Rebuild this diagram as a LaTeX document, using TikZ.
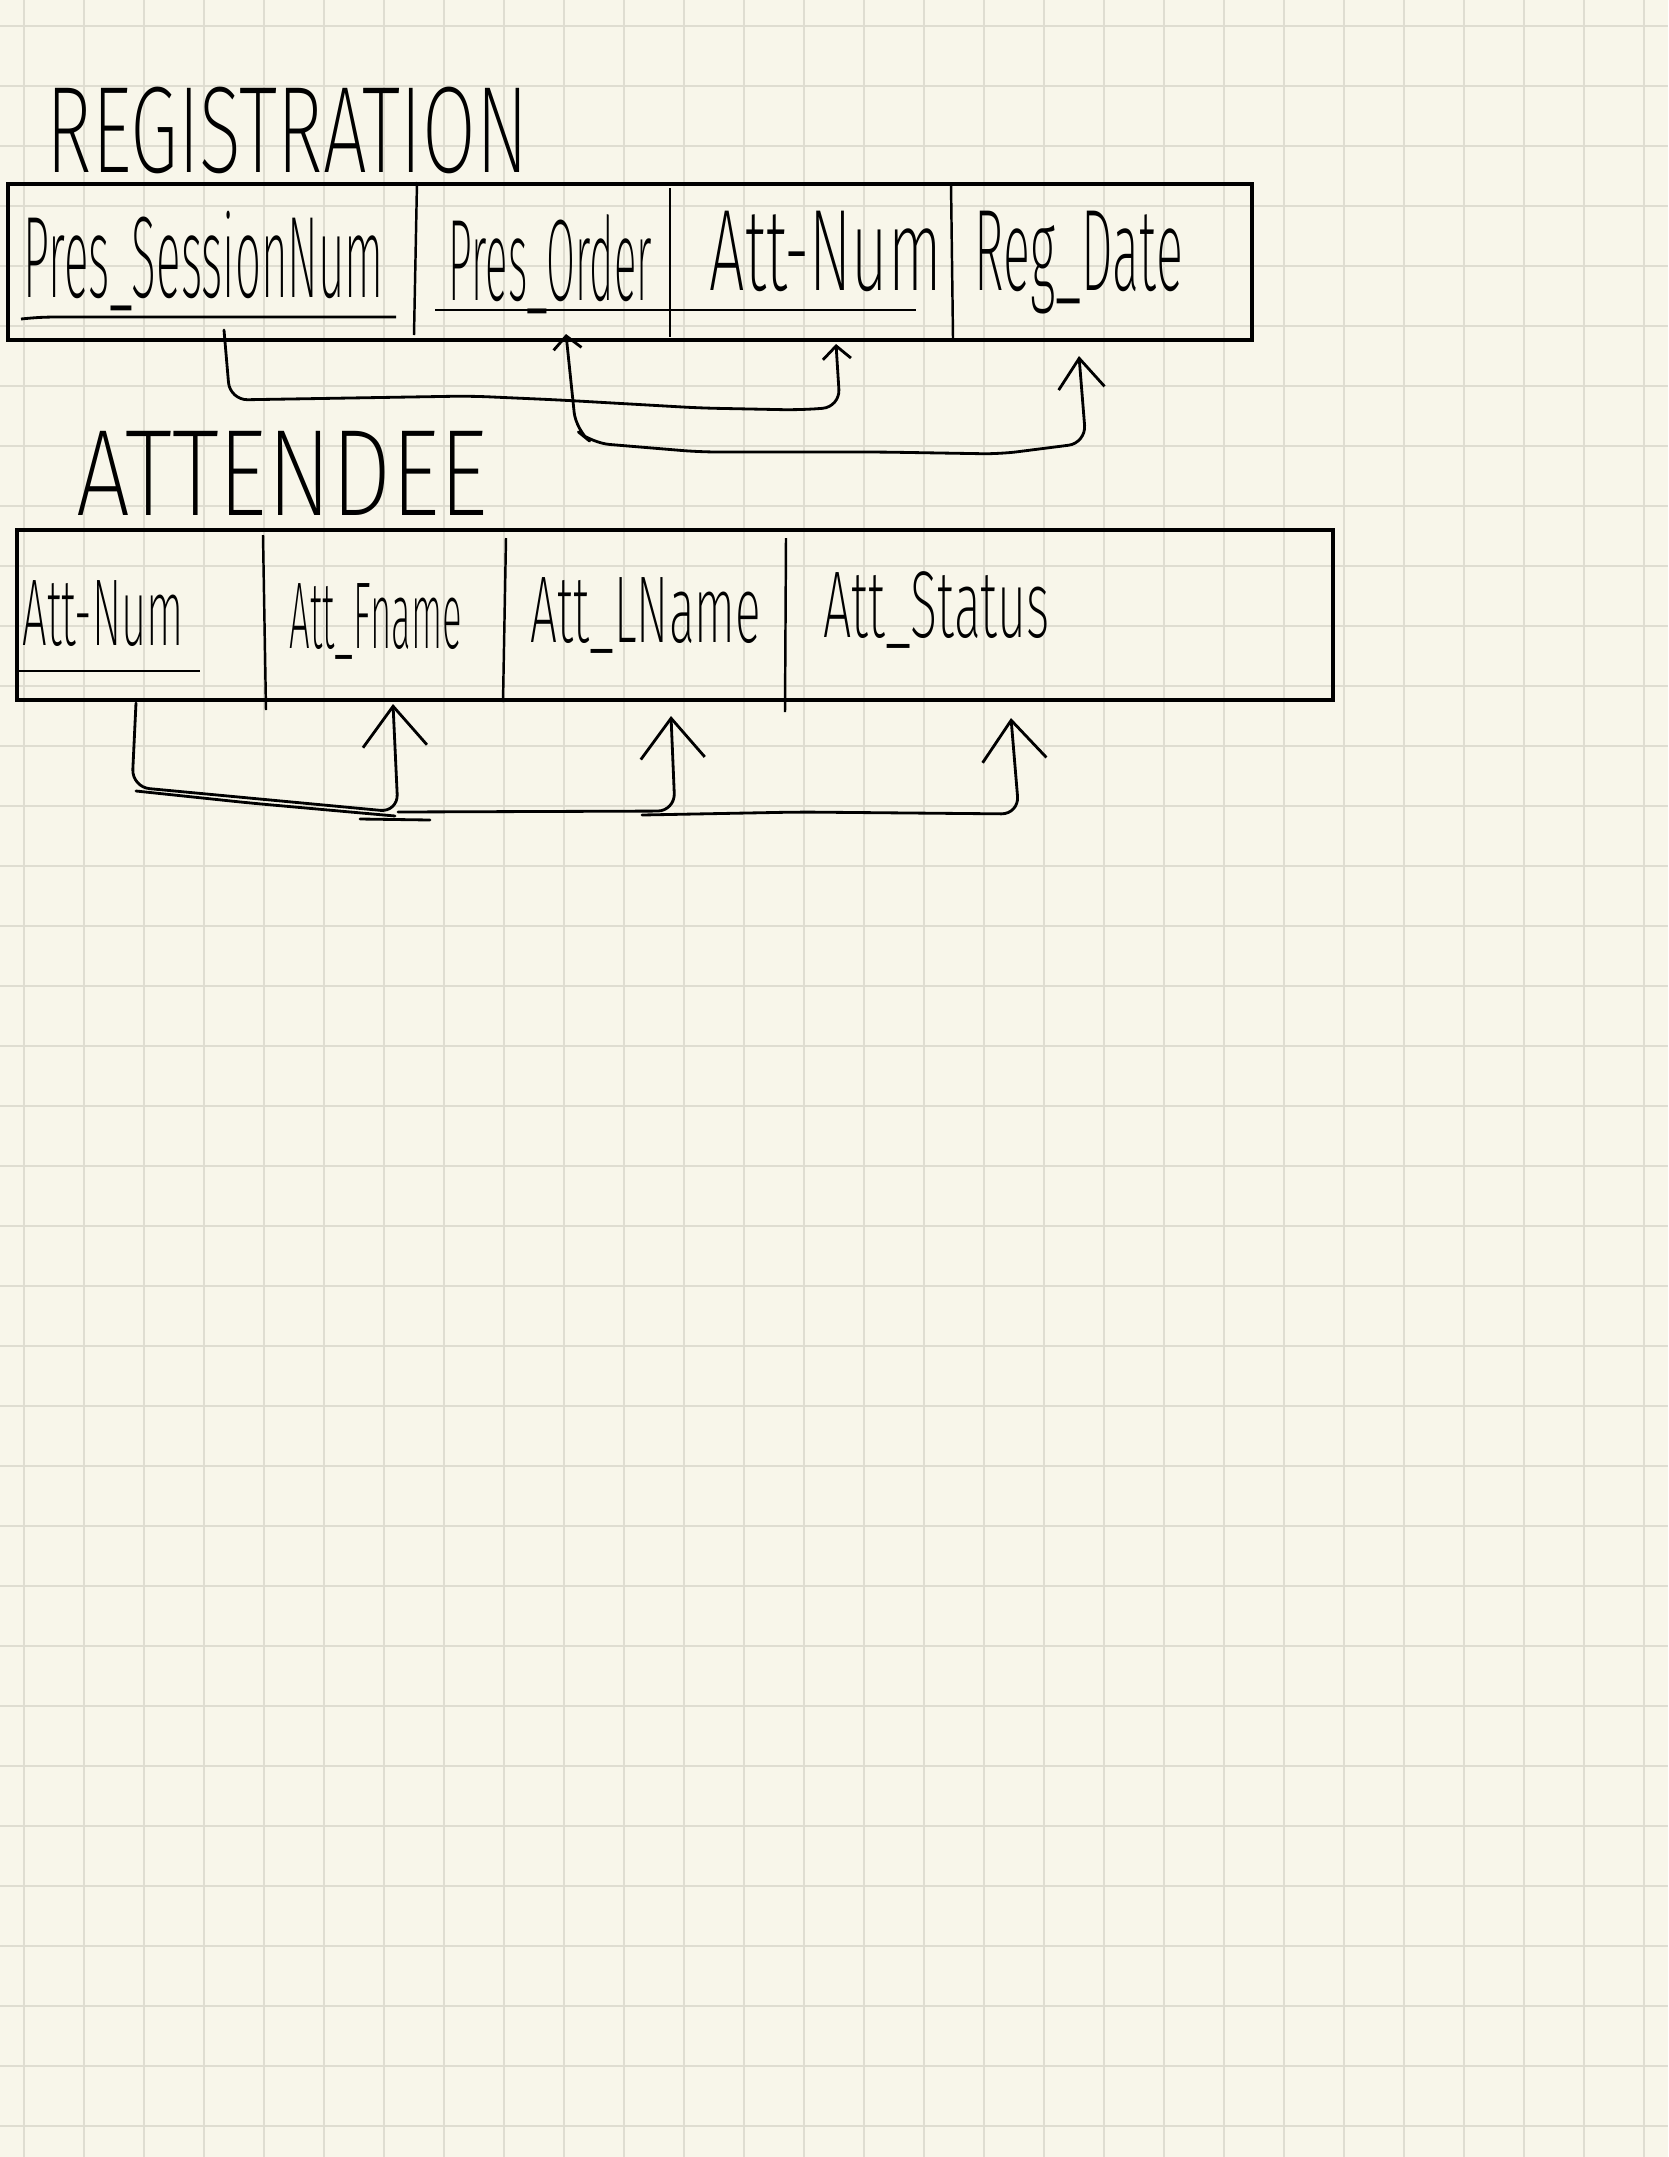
\documentclass[tikz,border=0pt]{standalone}
\usepackage{graphicx}
\usepackage{xcolor}
\usepackage{fontspec}
\usetikzlibrary{arrows.meta}
\newfontfamily\handfont[UprightFont=* ExtraLight]{Fira Sans}
\definecolor{paper}{HTML}{F8F6EA}
\definecolor{gridline}{HTML}{DFDDD1}
\newcommand{\fitw}[2]{\resizebox{#1}{\height}{#2}}

\begin{document}
\begin{tikzpicture}[x=0.01cm,y=-0.01cm,
    lbl/.style={anchor=base west,inner sep=0pt,font=\handfont\fontsize{33}{36}\selectfont},
    lbltwo/.style={anchor=base west,inner sep=0pt,font=\handfont\fontsize{27}{30}\selectfont},
    title/.style={anchor=base west,inner sep=0pt,font=\handfont\fontsize{35}{40}\selectfont},
    conn/.style={line width=0.8pt,line join=round,line cap=round,rounded corners=5pt},
    bigtip/.style={-{Straight Barb[length=0.4cm,width=0.64cm]}}]
            % Paper
            \useasboundingbox (0,0) rectangle (1668,2157);
            \fill[paper] (0,0) rectangle (1668,2157);
            \foreach \i in {0,...,27}
                \draw[gridline,line width=0.55pt] (24+60*\i,0) -- (24+60*\i,2157);
            \foreach \j in {0,...,35}
                \draw[gridline,line width=0.55pt] (0,26.4+60*\j) -- (1668,26.4+60*\j);

            % REGISTRATION
            \node[title] (regtitle) at (46,172) {\fitw{4.81cm}{REGISTRATION}};
            \draw[line width=0.9pt] (8,184) rectangle (1252,340);
            \draw[line width=0.7pt] (417,182) -- (414,335);
            \draw[line width=0.7pt] (670,188) -- (670,337);
            \draw[line width=0.7pt] (951,183) -- (953,338);

            \node[lbl] (psn) at (23,297) {\fitw{3.6cm}{Pres\_SessionNum}};
            \node[lbl] (pord) at (448,300) {\fitw{2.03cm}{Pres\_Order}};
            \node[lbl] (anum) at (709,290) {\fitw{2.32cm}{Att-Num}};
            \node[lbl] (rdate) at (974,290) {\fitw{2.08cm}{Reg\_Date}};

            \draw[line width=0.8pt] (21,319) to[bend left=3] (60,317) -- (396,317);
            \draw[line width=0.8pt] (435,310) -- (916,310);

            \coordinate (psnfoot) at (224,330);
            \coordinate (pordtip) at (566,334);
            \coordinate (anumtip) at (836,344);
            \coordinate (rdatetip) at (1079,356);

            \draw[conn,-{Straight Barb[length=0.13cm,width=0.28cm]}] (psnfoot) -- (230,400) -- (470,396) -- (560,400)
                -- (700,408) -- (800,410) -- (840,407) -- (anumtip);
            \draw[conn,{Straight Barb[length=0.13cm,width=0.28cm]}-{Straight Barb[length=0.3cm,width=0.46cm]}]
                (pordtip) -- (576,430) -- (592,443) -- (700,452) -- (880,452)
                -- (1000,454) -- (1086,443) -- (rdatetip);

            % ATTENDEE
            \node[title] (atttitle) at (76,515) {\fitw{4.11cm}{ATTENDEE}};
            \draw[line width=0.9pt] (17,530) rectangle (1333,700);
            \draw[line width=0.7pt] (263,535) -- (266,710);
            \draw[line width=0.7pt] (506,538) -- (503,702);
            \draw[line width=0.7pt] (786,538) -- (785,712);

            \node[lbltwo] (aanum) at (22,645) {\fitw{1.61cm}{Att-Num}};
            \node[lbltwo] (afname) at (289,648) {\fitw{1.72cm}{Att\_Fname}};
            \node[lbltwo] (alname) at (530,642) {\fitw{2.30cm}{Att\_LName}};
            \node[lbltwo] (astatus) at (823,637) {\fitw{2.26cm}{Att\_Status}};

            \draw[line width=0.8pt] (19,671) -- (200,671);

            \coordinate (aanumfoot) at (136,703);
            \coordinate (afnametip) at (393,704);
            \coordinate (alnametip) at (671,716);
            \coordinate (astatustip) at (1011,718);
            \coordinate (ajoin) at (398,812);

            \draw[conn,bigtip] (aanumfoot) -- (132,787) -- (ajoin) -- (afnametip);
            \draw[conn] (136,791) -- (250,803) -- (395,816);
            \draw[conn] (360,819) -- (430,820);
            \draw[conn,bigtip] (ajoin) -- (675,811) -- (alnametip);
            \draw[conn,bigtip] (642,815) -- (800,812) -- (1019,814) -- (astatustip);
        \end{tikzpicture}
\end{document}
